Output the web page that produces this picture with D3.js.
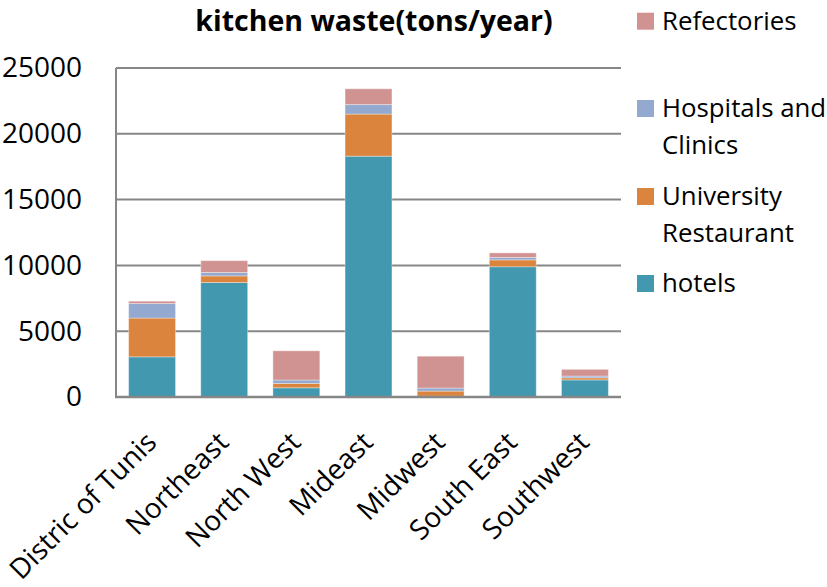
<!DOCTYPE html>
<html>
<head>
<meta charset="utf-8">
<script src="https://cdn.jsdelivr.net/npm/d3@7"></script>
<style>
  html, body { margin: 0; padding: 0; background: #fff; }
  text { font-family: "Open Sans", sans-serif; fill: #000; }
</style>
</head>
<body>
<svg id="chart" width="827" height="587"></svg>
<script>
const categories = ["Distric of Tunis", "Northeast", "North West", "Mideast", "Midwest", "South East", "Southwest"];
const seriesNames = ["hotels", "University Restaurant", "Hospitals and Clinics", "Refectories"];
const hotels      = [3050, 8700, 700, 18300, 60, 9900, 1300];
const university  = [2950, 500, 330, 3200, 390, 520, 160];
const hospitals   = [1100, 260, 260, 720, 230, 180, 130];
const refectories = [180, 900, 2220, 1200, 2420, 350, 510];
const yTicks = [0, 5000, 10000, 15000, 20000, 25000];
const colors = ["#4198AF", "#DB843D", "#93A9CF", "#D19392"];
const legendLines = [["Refectories"], ["Hospitals and", "Clinics"], ["University", "Restaurant"], ["hotels"]];
const legendColors = ["#D19392", "#93A9CF", "#DB843D", "#4198AF"];

const table = categories.map((c, i) => ({
  cat: c, hotels: hotels[i], "University Restaurant": university[i],
  "Hospitals and Clinics": hospitals[i], Refectories: refectories[i]
}));

const svg = d3.select("#chart");
const m = {left: 116, right: 621, top: 68, bottom: 397};

const x = d3.scaleBand().domain(categories).range([m.left, m.right]).paddingInner(0.35).paddingOuter(0.175);
const y = d3.scaleLinear().domain([0, 25000]).range([m.bottom, m.top]);

// gridlines
svg.append("g").selectAll("line").data(yTicks.filter(d => d > 0)).join("line")
  .attr("x1", m.left).attr("x2", m.right)
  .attr("y1", d => y(d)).attr("y2", d => y(d))
  .attr("stroke", "#878787").attr("stroke-width", 2);

// bars
const stack = d3.stack().keys(seriesNames)(table);
svg.append("g").selectAll("g").data(stack).join("g")
  .attr("fill", (d, i) => colors[i])
  .selectAll("rect").data(d => d).join("rect")
  .attr("x", d => x(d.data.cat))
  .attr("width", x.bandwidth())
  .attr("y", d => y(d[1]))
  .attr("height", d => y(d[0]) - y(d[1]))
  .attr("stroke", "#ffffff").attr("stroke-opacity", 0.35).attr("stroke-width", 1);

// axes lines
svg.append("line").attr("x1", m.left).attr("x2", m.left).attr("y1", m.top).attr("y2", m.bottom)
  .attr("stroke", "#878787").attr("stroke-width", 2);
svg.append("line").attr("x1", m.left - 1).attr("x2", m.right).attr("y1", m.bottom).attr("y2", m.bottom)
  .attr("stroke", "#878787").attr("stroke-width", 2.5);

// y axis labels
const yAxis = d3.axisLeft(y).tickValues(yTicks).tickSize(0).tickPadding(34).tickFormat(d3.format("d"));
const gy = svg.append("g").attr("transform", `translate(${m.left},0)`).call(yAxis);
gy.select(".domain").remove();
gy.selectAll("text").style("font-family", "'Open Sans', sans-serif").style("font-size", "28px").attr("fill", "#000");

// x axis labels
const xAxis = d3.axisBottom(x).tickSize(0).tickPadding(0);
const gx = svg.append("g").attr("transform", `translate(0,${m.bottom})`).call(xAxis);
gx.select(".domain").remove();
gx.selectAll("text")
  .style("font-family", "'Open Sans', sans-serif").style("font-size", "28px").attr("fill", "#000")
  .attr("text-anchor", "end")
  .attr("dy", null).attr("y", 0)
  .attr("transform", "translate(6,47) rotate(-45)");

// title
svg.append("text").attr("x", 374).attr("y", 31).attr("text-anchor", "middle")
  .style("font-size", "28.5px").style("font-weight", "bold").text("kitchen waste(tons/year)");

// legend
const legendY = [12.7, 100, 188, 275];
const lg = svg.append("g");
legendLines.forEach((lines, i) => {
  lg.append("rect").attr("x", 637).attr("y", legendY[i]).attr("width", 17).attr("height", 17).attr("fill", legendColors[i]);
  lines.forEach((t, j) => {
    lg.append("text").attr("x", 662).attr("y", legendY[i] + 17 + j * 37)
      .style("font-size", "25.8px").text(t);
  });
});
</script>
</body>
</html>
